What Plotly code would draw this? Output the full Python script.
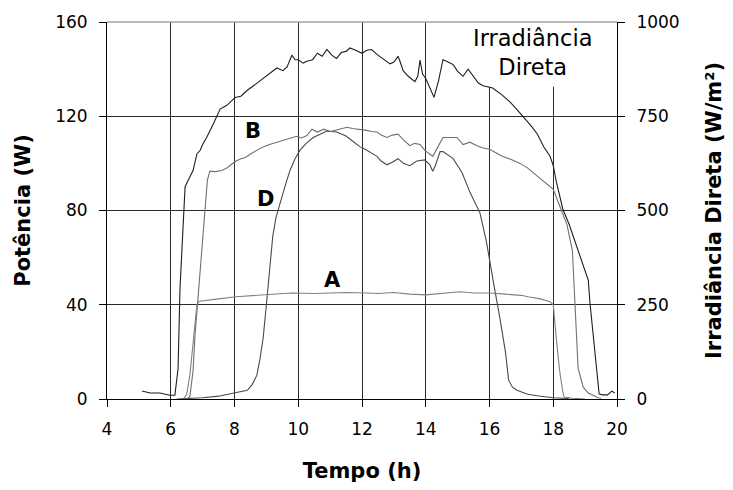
import plotly.graph_objects as go

# ---- data ----
irr_h = [5.1, 5.35, 5.66, 5.97, 6.13, 6.23, 6.29, 6.35, 6.4, 6.45, 6.55, 6.7, 6.82, 6.92, 7.0, 7.13, 7.33, 7.45,
         7.55, 7.76, 8.02, 8.2, 8.4, 8.6, 8.8, 9.0, 9.2, 9.33, 9.52, 9.65, 9.8, 9.9, 10.0, 10.15, 10.27, 10.45,
         10.6, 10.75, 10.9, 11.05, 11.2, 11.35, 11.5, 11.62, 11.8, 12.0, 12.15, 12.3, 12.5, 12.7, 12.88, 13.0,
         13.13, 13.2, 13.29, 13.45, 13.66, 13.75, 13.82, 13.9, 14.0, 14.1, 14.26, 14.4, 14.54, 14.7, 14.86, 15.0,
         15.17, 15.33, 15.5, 15.65, 15.8, 16.1, 16.4, 16.64, 16.85, 17.05, 17.3, 17.5, 17.7, 17.9, 18.0, 18.1,
         18.3, 18.5, 18.75, 18.94, 19.1, 19.15, 19.25, 19.37, 19.44, 19.55, 19.7, 19.84, 19.93]
irr_v = [21, 16, 16, 10, 10, 81, 294, 406, 478, 563, 581, 606, 650, 659, 675, 694, 729, 750,
         769, 779, 800, 803, 819, 831, 844, 856, 869, 878, 871, 881, 912, 900, 900, 891, 896, 900,
         917, 909, 927, 912, 903, 919, 922, 931, 925, 917, 925, 927, 912, 900, 889, 894,
         909, 894, 871, 856, 842, 856, 899, 862, 850, 831, 800, 844, 900, 894, 887, 869,
         856, 875, 856, 838, 831, 825, 806, 788, 769, 750, 725, 703, 669, 644, 619, 575,
         504, 463, 400, 350, 315, 256, 169, 81, 13, 11, 11, 21, 16]

b_h = [6.5, 6.6, 6.7, 6.76, 6.85, 6.92, 7.0, 7.08, 7.15, 7.23, 7.4, 7.6, 7.76, 7.9, 8.02, 8.2, 8.35, 8.5, 8.7,
       8.9, 9.1, 9.33, 9.5, 9.7, 9.84, 9.95, 10.1, 10.27, 10.43, 10.6, 10.8, 11.0, 11.2, 11.53, 11.7, 11.94,
       12.15, 12.3, 12.47, 12.6, 12.78, 12.95, 13.13, 13.3, 13.5, 13.65, 13.82, 13.97, 14.13, 14.22, 14.38,
       14.54, 14.75, 14.98, 15.17, 15.39, 15.6, 15.8, 16.0, 16.2, 16.4, 16.7, 16.96, 17.2, 17.5, 17.75, 18.0,
       18.2, 18.43, 18.6, 18.63, 18.7, 18.78, 18.94, 19.1, 19.25, 19.4, 19.5]
b_v = [0, 1, 12, 27, 42, 54, 68, 84, 93, 96.7, 96.5, 97, 98, 99.5, 100.8, 102, 102.5, 104, 105.5,
       107, 108, 109, 109.5, 110.5, 111, 111.5, 110.8, 111.8, 114.5, 113.3, 114.5, 113.5, 114.2, 115.3, 114.8, 114.5,
       114, 113.5, 113.3, 112, 111, 112, 112.4, 110, 107.5, 108.5, 108, 105.5, 104, 103, 107,
       111, 111, 111, 108, 109, 107.5, 106.5, 106, 104.5, 103, 101.5, 100, 98, 94.6, 92, 89,
       82, 74, 63, 54, 34, 13, 5, 2.5, 1.6, 0.5, 0.3]

d_h = [6.2, 6.6, 7.0, 7.5, 8.0, 8.2, 8.4, 8.55, 8.7, 8.8, 8.9, 9.0, 9.1, 9.2, 9.3, 9.43, 9.6, 9.74, 9.9, 10.05,
       10.25, 10.47, 10.7, 10.9, 11.05, 11.2, 11.35, 11.5, 11.7, 11.94, 12.1, 12.3, 12.47, 12.6, 12.78, 12.95,
       13.13, 13.3, 13.5, 13.72, 13.97, 14.13, 14.22, 14.3, 14.45, 14.54, 14.7, 14.86, 15.0, 15.14, 15.39,
       15.55, 15.7, 15.9, 16.07, 16.17, 16.33, 16.5, 16.6, 16.72, 16.86, 17.2, 17.6, 18.0, 18.5]
d_v = [0, 0.3, 0.5, 1.2, 2.5, 3, 3.7, 6, 10, 17, 26, 40, 55, 69, 77, 83.5, 91, 97, 102, 105.5,
       108.5, 111, 112.5, 113.7, 113.5, 113.3, 112.5, 111.6, 109.5, 107, 106, 104.5, 103, 101, 99.4, 100.5,
       102, 100, 99, 101, 101.5, 99.4, 96.7, 99, 105, 105, 103.5, 102, 99, 96, 87.6,
       83, 79, 67, 53, 46, 34, 20, 8, 5, 3.7, 2, 1.2, 0.5, 0.2]

a_h = [6.4, 6.5, 6.6, 6.67, 6.75, 6.82, 6.9, 7.13, 7.5, 8.05, 8.5, 9.2, 9.8, 10.5, 11.0, 11.5, 12.15, 12.5,
       13.0, 13.5, 14.0, 14.5, 15.07, 15.5, 16.0, 16.5, 17.0, 17.2, 17.6, 17.9, 18.0, 18.1, 18.2, 18.3, 18.34,
       18.6, 19.0]
a_v = [0, 2, 10, 20, 32, 40, 41.5, 42, 42.5, 43.4, 43.8, 44.6, 45, 44.8, 45, 45.2, 45, 44.8,
       45.2, 44.5, 44.2, 44.8, 45.5, 45, 45, 44.5, 44, 43.4, 42.5, 41.3, 40, 25, 12, 3, 0.8,
       0.3, 0]

x_ticks = [4, 6, 8, 10, 12, 14, 16, 18, 20]
y_ticks = [0, 40, 80, 120, 160]
y2_ticks = [0, 250, 500, 750, 1000]

FONT = "DejaVu Sans"

fig = go.Figure()
fig.add_trace(go.Scatter(x=d_h, y=d_v, mode="lines", line=dict(color="#4a4a4a", width=1.1), showlegend=False))
fig.add_trace(go.Scatter(x=b_h, y=b_v, mode="lines", line=dict(color="#707070", width=1.1), showlegend=False))
fig.add_trace(go.Scatter(x=a_h, y=a_v, mode="lines", line=dict(color="#808080", width=1.1), showlegend=False))
fig.add_trace(go.Scatter(x=irr_h, y=irr_v, mode="lines", yaxis="y2",
                         line=dict(color="#1e1e1e", width=1.1), showlegend=False))

# white box behind the "Irradiância Direta" label (hides gridlines only)
fig.add_shape(type="rect", xref="x", yref="y", x0=15.15, x1=19.6, y0=132.5, y1=160,
              fillcolor="white", line=dict(width=0), layer="between")
# light grey top frame
fig.add_shape(type="line", xref="paper", yref="paper", x0=0, x1=1, y0=1, y1=1,
              line=dict(color="#a0a0a0", width=1.5), layer="above")

ann_font = dict(family=FONT, size=21, color="black")
fig.add_annotation(x=11.06, y=50.4, text="<b>A</b>", showarrow=False, font=ann_font)
fig.add_annotation(x=8.58, y=113.7, text="<b>B</b>", showarrow=False, font=ann_font)
fig.add_annotation(x=8.96, y=84.7, text="<b>D</b>", showarrow=False, font=ann_font)
fig.add_annotation(x=17.36, y=147.0, text="Irradiância<br>Direta", showarrow=False,
                   font=dict(family=FONT, size=22.5, color="black"))

tick_font = dict(family=FONT, size=17, color="black")
title_font = dict(family=FONT, size=21, color="black")

fig.update_layout(
    width=733, height=490,
    margin=dict(l=107, r=116, t=15, b=88),
    paper_bgcolor="white", plot_bgcolor="white",
    xaxis=dict(range=[4, 20], tickvals=x_ticks, showgrid=True, gridcolor="#2a2a2a", gridwidth=1,
               showline=True, linecolor="black", linewidth=1, ticks="outside", ticklen=7,
               tickcolor="black", zeroline=False, tickfont=tick_font, ticklabelstandoff=8,
               title=dict(text="<b>Tempo (h)</b>", font=title_font, standoff=24)),
    yaxis=dict(range=[0, 160], tickvals=y_ticks, showgrid=True, gridcolor="#2a2a2a", gridwidth=1,
               showline=True, linecolor="black", linewidth=1, ticks="outside", ticklen=7,
               tickcolor="black", zeroline=False, tickfont=tick_font, ticklabelstandoff=8,
               title=dict(text="<b>Potência (W)</b>", font=title_font, standoff=18)),
    yaxis2=dict(range=[0, 1000], tickvals=y2_ticks, overlaying="y", side="right", showgrid=False,
                showline=True, linecolor="black", linewidth=1, ticks="outside", ticklen=7,
                tickcolor="black", zeroline=False, tickfont=tick_font, ticklabelstandoff=8,
                title=dict(text="<b>Irradiância Direta (W/m²)</b>", font=title_font, standoff=27)),
)

fig.write_html("out.html")
